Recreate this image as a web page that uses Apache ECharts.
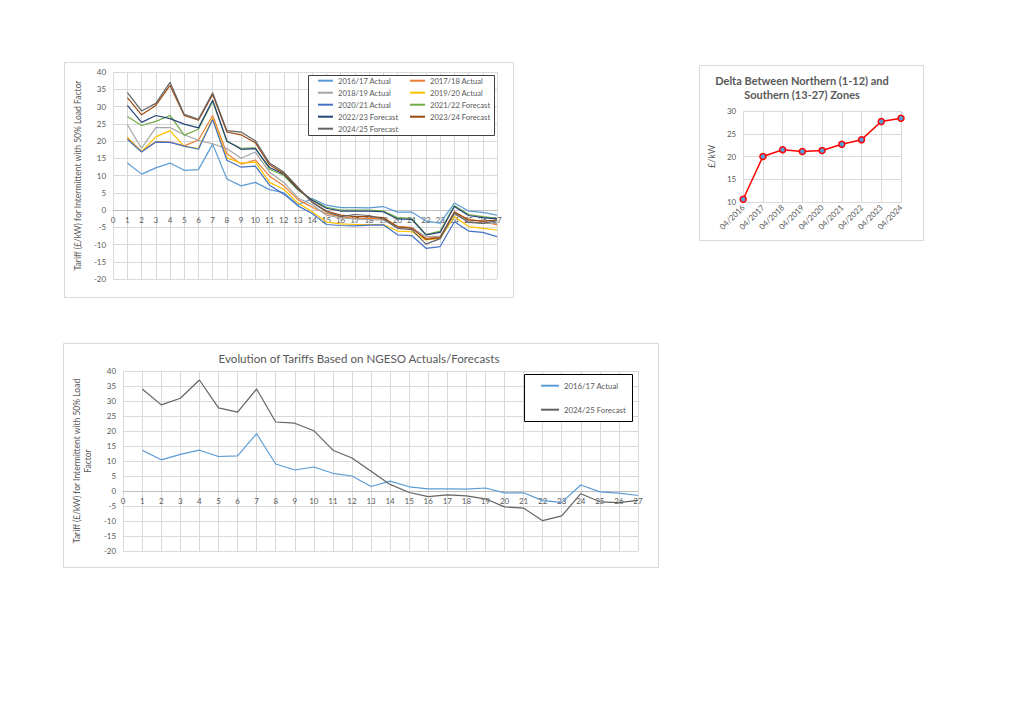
<!DOCTYPE html>
<html><head><meta charset="utf-8">
<script src="https://cdn.jsdelivr.net/npm/echarts@6/dist/echarts.min.js"></script>
<style>
html,body{margin:0;padding:0;background:#fff;width:1020px;height:720px;overflow:hidden}
.c{position:absolute}
</style></head><body>
<div id="c1" class="c" style="left:64px;top:62px;width:450px;height:236px"></div>
<div id="c2" class="c" style="left:699px;top:65px;width:225px;height:176px"></div>
<div id="c3" class="c" style="left:63px;top:343px;width:596px;height:225px"></div>
<script>
// ---------- DATA ----------
const zones = ['0','1','2','3','4','5','6','7','8','9','10','11','12','13','14','15','16','17','18','19','20','21','22','23','24','25','26','27'];

const names = ['2016/17 Actual','2017/18 Actual','2018/19 Actual','2019/20 Actual','2020/21 Actual',
  '2021/22 Forecast','2022/23 Forecast','2023/24 Forecast','2024/25 Forecast'];

const t2016 = [13.6, 10.4, 12.2, 13.6, 11.5, 11.7, 19.1, 9.0, 7.0, 8.0, 5.9, 5.0, 1.5, 3.3, 1.4, 0.7, 0.7, 0.6, 1.0, -0.6, -0.6, -3.2, -3.8, 2.0, -0.3, -0.7, -1.5];
const t2017 = [21.0, 17.0, 19.8, 19.7, 18.6, 20.3, 27.4, 16.4, 13.3, 14.5, 9.8, 7.0, 3.0, 0.8, -1.0, -2.0, -2.4, -2.4, -2.6, -4.8, -5.0, -8.2, -7.8, -0.8, -2.7, -3.3, -4.3];
const t2018 = [24.7, 17.9, 23.9, 23.9, 21.8, 20.2, 19.2, 17.8, 15.0, 16.8, 11.0, 8.0, 3.5, 1.5, -1.5, -2.3, -2.6, -2.8, -2.9, -5.0, -5.1, -7.8, -7.6, -1.3, -3.2, -3.9, -3.9];
const t2019 = [20.8, 16.9, 21.2, 23.0, 18.4, 17.9, 26.5, 15.1, 13.6, 13.9, 8.0, 6.0, 2.0, -0.5, -3.5, -4.0, -4.2, -4.2, -4.2, -6.1, -6.3, -8.7, -8.2, -1.9, -4.8, -5.3, -5.8];
const t2020 = [20.5, 16.8, 19.7, 19.6, 18.5, 17.6, 26.2, 14.4, 12.4, 12.7, 7.2, 4.6, 1.2, -1.0, -4.2, -4.5, -4.6, -4.4, -4.3, -7.2, -7.4, -11.1, -10.6, -3.4, -6.1, -6.5, -7.7];
const t2021 = [27.1, 24.5, 25.7, 27.4, 21.7, 23.4, 31.5, 19.9, 17.9, 18.0, 11.8, 10.0, 5.8, 3.0, 0.8, 0.0, 0.0, 0.0, -0.3, -2.2, -2.4, -7.1, -6.1, 1.3, -1.3, -1.9, -2.4];
const t2022 = [30.3, 25.4, 27.4, 26.5, 24.9, 23.8, 31.8, 20.0, 17.6, 17.8, 12.3, 10.4, 6.0, 2.8, 0.5, -0.3, -0.3, -0.3, -0.5, -2.6, -2.7, -7.2, -6.5, 1.0, -1.6, -2.2, -2.6];
const t2023 = [32.6, 27.6, 30.3, 36.1, 27.4, 26.0, 33.5, 22.6, 21.8, 19.5, 13.1, 10.6, 6.3, 2.3, -0.3, -1.5, -1.9, -1.9, -2.2, -4.8, -5.3, -8.5, -8.0, -0.5, -2.9, -3.2, -2.9];
const t2024 = [34.0, 28.7, 30.9, 37.0, 27.7, 26.3, 34.0, 23.0, 22.6, 20.1, 13.6, 11.0, 6.6, 2.2, -0.5, -1.9, -1.3, -1.6, -2.6, -5.3, -5.7, -9.9, -8.3, -0.9, -3.6, -3.9, -3.1];

const deltaDates = ['04/2016','04/2017','04/2018','04/2019','04/2020','04/2021','04/2022','04/2023','04/2024'];
const deltaValues = [10.6, 20.0, 21.5, 21.1, 21.3, 22.7, 23.7, 27.7, 28.4];

const tariffMin = -20, tariffMax = 40, tariffStep = 5;

// ---------- STYLE ----------
const FONT = 'Lato, "Open Sans", sans-serif';
const GRID = '#d9d9d9';
const TXT = '#595959';
const colors = ['#5b9bd5','#ed7d31','#a5a5a5','#ffc000','#4472c4','#70ad47','#264478','#9e480e','#636363'];
const allSeries = [t2016,t2017,t2018,t2019,t2020,t2021,t2022,t2023,t2024];

function frame(w,h){
  return {type:'rect', silent:true, z:-10, shape:{x:0.5,y:0.5,width:w-1,height:h-1},
    style:{fill:'#fff', stroke:GRID, lineWidth:1}};
}
// plotH: plot height in px; category axis is raised to the zero line
function tariffAxes(nameText, nameGap, plotH){
  const zeroOffset = plotH * (0 - tariffMin) / (tariffMax - tariffMin);
  return {
    xAxis:{type:'category', data:zones, boundaryGap:false, position:'bottom', offset:-zeroOffset,
      axisLine:{onZero:false, lineStyle:{color:'#bfbfbf', width:1}},
      axisTick:{show:false},
      axisLabel:{interval:0, fontSize:8, color:TXT, margin:6, fontFamily:FONT},
      splitLine:{show:true, interval:0, lineStyle:{color:GRID, width:1}}},
    yAxis:{type:'value', min:tariffMin, max:tariffMax, interval:tariffStep,
      name:nameText, nameLocation:'middle', nameGap:nameGap,
      nameTextStyle:{fontSize:8.5, color:TXT, fontFamily:FONT, lineHeight:11, align:'center'},
      axisLine:{show:false}, axisTick:{show:false},
      axisLabel:{fontSize:8, color:TXT, margin:7, fontFamily:FONT},
      splitLine:{lineStyle:{color:GRID, width:1}}}
  };
}
function withNull(arr){ return [null].concat(arr); }

// ---------- CHART 1 ----------
const c1 = echarts.init(document.getElementById('c1'), null, {renderer:'svg'});
const ax1 = tariffAxes('Tariff (£/kW) for Intermittent with 50% Load Factor', 28, 236 - 10 - 19);
const legendCommon = {orient:'vertical', itemGap:0, itemWidth:15, itemHeight:2, icon:'rect', padding:0,
  textStyle:{fontSize:7.6, color:TXT, lineHeight:12, fontFamily:FONT}, selectedMode:false};
c1.setOption({
  animation:false,
  textStyle:{fontFamily:FONT},
  grid:{left:46, right:17, top:10, bottom:19},
  xAxis:ax1.xAxis, yAxis:ax1.yAxis,
  graphic:[frame(450,236),
    {type:'rect', silent:true, z:50, shape:{x:244.5,y:13.5,width:186,height:60},
      style:{fill:'#fff', stroke:'#404040', lineWidth:1}}],
  legend:[
    Object.assign({left:254, top:12.7, z:60, data:[names[0],names[2],names[4],names[6],names[8]]}, legendCommon),
    Object.assign({left:346, top:12.7, z:60, data:[names[1],names[3],names[5],names[7]]}, legendCommon)
  ],
  series: allSeries.map(function(d,i){
    return {name:names[i], type:'line', data:withNull(d), symbol:'none', color:colors[i],
      lineStyle:{width:1.2, color:colors[i]}, z:2+i};
  })
});

// ---------- CHART 2 ----------
const c2 = echarts.init(document.getElementById('c2'), null, {renderer:'svg'});
c2.setOption({
  animation:false,
  textStyle:{fontFamily:FONT},
  grid:{left:41, right:23, top:46, bottom:39},
  graphic:[frame(225,176),
    {type:'text', silent:true, style:{text:'Delta Between Northern (1-12) and\nSouthern (13-27) Zones',
      x:103, y:22, align:'center', verticalAlign:'middle', lineHeight:14,
      font:'bold 11px ' + FONT, fill:TXT}}],
  xAxis:{type:'category', data:deltaDates, boundaryGap:false,
    axisLine:{lineStyle:{color:GRID}}, axisTick:{show:false},
    axisLabel:{interval:0, rotate:45, fontSize:8, color:TXT, margin:4, fontFamily:FONT},
    splitLine:{show:true, interval:0, lineStyle:{color:GRID}}},
  yAxis:{type:'value', min:10, max:30, interval:5, name:'£/kW', nameLocation:'middle', nameGap:20,
    nameTextStyle:{fontSize:9, color:TXT, fontFamily:FONT},
    axisLine:{show:false}, axisTick:{show:false},
    axisLabel:{fontSize:8, color:TXT, margin:7, fontFamily:FONT},
    splitLine:{lineStyle:{color:GRID}}},
  series:[{type:'line', data:deltaValues, symbol:'circle', symbolSize:6,
    lineStyle:{color:'#ff0000', width:1.5},
    itemStyle:{color:'#5b9bd5', borderColor:'#ff0000', borderWidth:1.5}}]
});

// ---------- CHART 3 ----------
const c3 = echarts.init(document.getElementById('c3'), null, {renderer:'svg'});
const ax3 = tariffAxes('Tariff (£/kW) for Intermittent with 50% Load\nFactor', 30, 225 - 28 - 17);
c3.setOption({
  animation:false,
  textStyle:{fontFamily:FONT},
  grid:{left:60, right:21, top:28, bottom:17},
  xAxis:ax3.xAxis, yAxis:ax3.yAxis,
  graphic:[frame(596,225),
    {type:'text', silent:true, style:{text:'Evolution of Tariffs Based on NGESO Actuals/Forecasts',
      x:296, y:15, align:'center', verticalAlign:'middle', font:'11.6px ' + FONT, fill:TXT}},
    {type:'rect', silent:true, z:50, shape:{x:461.5,y:31.5,width:108,height:47},
      style:{fill:'#fff', stroke:'#000', lineWidth:1}}],
  legend:[{left:478, top:36.7, z:60, orient:'vertical', itemGap:12, itemWidth:18, itemHeight:2, icon:'rect', padding:0,
    selectedMode:false, textStyle:{fontSize:7.8, color:TXT, lineHeight:12, fontFamily:FONT},
    data:[names[0], names[8]]}],
  series:[
    {name:names[0], type:'line', data:withNull(t2016), symbol:'none', color:colors[0], lineStyle:{width:1.2, color:colors[0]}},
    {name:names[8], type:'line', data:withNull(t2024), symbol:'none', color:colors[8], lineStyle:{width:1.2, color:colors[8]}}
  ]
});
</script>
</body></html>
